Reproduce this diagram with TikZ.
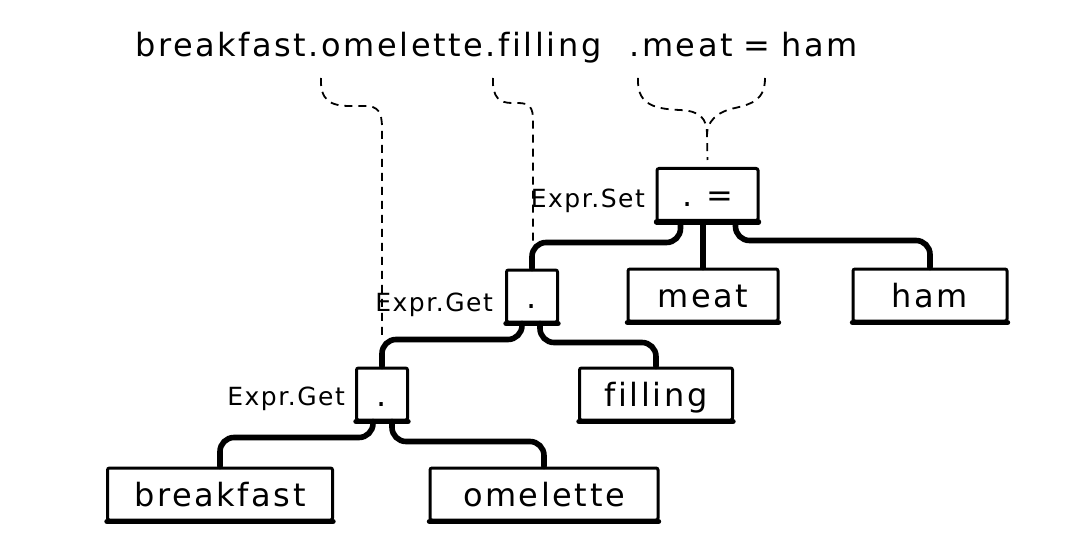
\documentclass[tikz,border=0pt]{standalone}
\usepackage{fontspec}
\newfontfamily\handfont{DejaVu Sans}[LetterSpace=8, Ligatures=NoCommon]
\newfontfamily\tagfont{DejaVu Sans}[LetterSpace=6, Ligatures=NoCommon]
\begin{document}
\begin{tikzpicture}[x=1pt,y=-1pt,
  box/.style={draw, line width=3pt, rounded corners=2pt, fill=white,
    inner sep=0pt, minimum height=52pt,
    font=\handfont\fontsize{32}{32}\selectfont, text height=24pt, text depth=0pt},
  base/.style={line width=5.4pt, line cap=round},
  conn/.style={line width=5.6pt, rounded corners=14pt, line cap=round},
  guide/.style={line width=1.8pt, dash pattern=on 8pt off 6pt},
  tag/.style={font=\tagfont\fontsize{25}{25}\selectfont, anchor=base east, inner sep=0pt}]
\useasboundingbox (0,0) rectangle (1067,553);

% source line
\node[anchor=base west, inner sep=0pt, font=\handfont\fontsize{32}{32}\selectfont]
  (src) at (135,57) {breakfast.omelette.filling\hspace{28pt}.meat\hspace{11pt}=\hspace{11pt}ham};
\coordinate (dA) at (321,78);
\coordinate (dB) at (493,78);
\coordinate (dC) at (638,78);
\coordinate (dD) at (765,78);

% syntax tree nodes
\node[box, minimum width=101pt] (set) at (707.5,194.5) {.\hspace{14pt}=};
\node[box, minimum width=51pt] (get1) at (532,296) {.};
\node[box, minimum width=51pt] (get2) at (382,394) {.};
\node[box, minimum width=150pt] (meat) at (703,295) {meat};
\node[box, minimum width=154pt] (ham) at (930,295) {ham};
\node[box, minimum width=153pt] (filling) at (656,394) {filling};
\node[box, minimum width=225pt] (breakfast) at (220,494) {breakfast};
\node[box, minimum width=228pt] (omelette) at (544,494) {omelette};

\foreach \n in {set,get1,get2,meat,ham,filling,breakfast,omelette}
  \draw[base] ([xshift=1pt]\n.south west) -- ([xshift=-1pt]\n.south east);

% class labels
\node[tag] (tset) at (645,208) {Expr.Set};
\node[tag] (tget1) at (493,311) {Expr.Get};
\node[tag] (tget2) at (345,405) {Expr.Get};

% tree edges
\draw[conn] ([xshift=-27pt]set.south) |- ([yshift=26pt]get1.north) -- (get1.north);
\draw[conn] (meat.north |- set.south) -- (meat.north);
\draw[conn] ([xshift=28pt]set.south) |- ([yshift=27pt]ham.north) -- (ham.north);
\draw[conn] ([xshift=-10pt]get1.south) |- ([yshift=27pt]get2.north) -- (get2.north);
\draw[conn] ([xshift=8pt]get1.south) |- ([yshift=24pt]filling.north) -- (filling.north);
\draw[conn] ([xshift=-9pt]get2.south) |- ([yshift=29pt]breakfast.north) -- (breakfast.north);
\draw[conn] ([xshift=10pt]get2.south) |- ([yshift=25pt]omelette.north) -- (omelette.north);

% guides from the source text down to the tree
\draw[guide] (dA) .. controls (320,100) and (330,106) .. (350,106) -- (365,106)
  .. controls (378,106) and (382,112) .. (382,128) -- ([yshift=27pt]get2.north);
\draw[guide] (dB) .. controls (492,98) and (500,103) .. (512,103) -- (518,103)
  .. controls (530,103) and (533,108) .. (533,120) -- ([xshift=1pt,yshift=27pt]get1.north);
\draw[guide] (dC) .. controls (637,102) and (650,109) .. (680,110)
  .. controls (700,111) and (707,118) .. (707,135) -- ([yshift=7pt]set.north);
\draw[guide] (dD) .. controls (765,100) and (752,104) .. (735,108)
  .. controls (716,112) and (707,122) .. (707,135);
\end{tikzpicture}
\end{document}
